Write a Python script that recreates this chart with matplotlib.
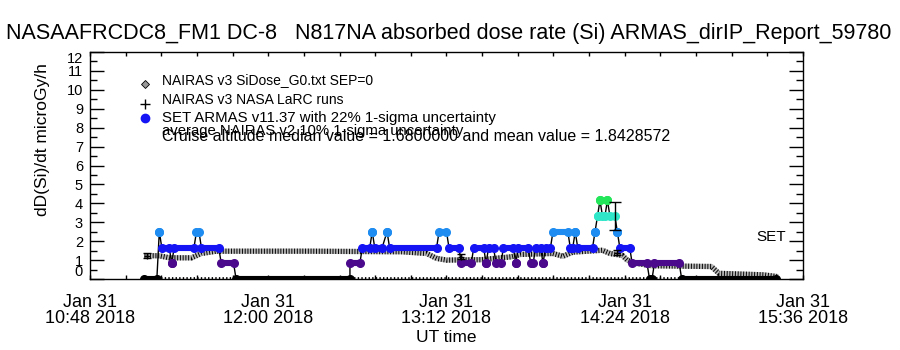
import pandas as pd
import matplotlib
matplotlib.use("Agg")
import matplotlib.pyplot as plt
import matplotlib.dates as mdates
from matplotlib.colors import ListedColormap, BoundaryNorm
from matplotlib.ticker import FixedLocator, AutoMinorLocator, MultipleLocator

plt.rcParams['font.family'] = ['Liberation Sans', 'DejaVu Sans']

day = "2018-01-31 "

# NAIRAS v3 SiDose_G0 model profile (breakpoints)
nairas_time = ["11:10", "11:16", "11:20", "11:29", "11:33", "11:39", "12:17", "12:54",
               "13:04", "13:08", "13:12", "13:26", "13:38", "13:42", "13:55", "13:59",
               "14:03", "14:15", "14:18", "14:23", "14:25", "14:28", "14:35", "14:59",
               "15:02", "15:20", "15:26"]
nairas_dose = [1.23, 1.23, 1.12, 1.12, 1.35, 1.47, 1.47, 1.44,
               1.35, 1.09, 1.00, 1.02, 1.17, 1.30, 1.35, 1.20,
               1.42, 1.52, 1.35, 1.25, 1.00, 0.84, 0.70, 0.66,
               0.30, 0.22, 0.12]

# NAIRAS v3 NASA LaRC runs with 10% uncertainty
larc_time = ["11:11", "13:18", "14:21"]
larc_dose = [1.23, 1.18, 1.39]
larc_err = [0.12, 0.12, 0.14]

# ARMAS dose rate segments: start, end, value
armas_start = ["11:10", "11:16", "11:17", "11:21", "11:22", "11:31", "11:33", "11:41",
               "11:47", "12:33", "12:38", "12:42", "12:43", "12:48", "12:49", "13:09",
               "13:13", "13:18", "13:23", "13:28", "13:29", "13:32", "13:35", "13:40",
               "13:41", "13:46", "13:48", "13:51", "13:52", "13:55", "14:02", "14:04",
               "14:05", "14:12", "14:13", "14:14", "14:15", "14:17", "14:18", "14:21",
               "14:22", "14:27", "14:34", "14:36", "14:47"]
armas_end = ["11:15", "11:16", "11:20", "11:21", "11:30", "11:32", "11:40", "11:46",
             "12:33", "12:37", "12:41", "12:42", "12:46", "12:48", "13:08", "13:12",
             "13:17", "13:22", "13:27", "13:28", "13:31", "13:34", "13:39", "13:40",
             "13:45", "13:47", "13:50", "13:51", "13:54", "14:01", "14:03", "14:04",
             "14:11", "14:12", "14:13", "14:14", "14:16", "14:17", "14:20", "14:21",
             "14:26", "14:33", "14:35", "14:46", "15:25"]
armas_dose = [0, 2.5, 1.66, 0.83, 1.66, 2.5, 1.66, 0.83,
              0, 0.83, 1.66, 2.5, 1.66, 2.5, 1.66, 2.5,
              1.66, 0.83, 1.66, 0.83, 1.66, 0.83, 1.66, 0.83,
              1.66, 0.83, 1.66, 0.83, 1.66, 2.5, 1.66, 2.5,
              1.66, 2.5, 3.33, 4.16, 3.33, 4.16, 3.33, 2.5,
              1.66, 0.83, 0, 0.83, 0]

# ARMAS cruise point with 22% uncertainty
armas_err_time = ["14:20"]
armas_err_dose = [3.33]
armas_err = [0.73]

# in-flight spans without ARMAS zero readings (small marks at the bottom)
flight_start = ["11:15", "12:33", "14:35"]
flight_end = ["11:47", "14:34", "14:47"]

tick_times = ["10:48", "12:00", "13:12", "14:24", "15:36"]


def to_dt(times):
    return pd.to_datetime([day + t for t in times])


level_colors = ["black", "#4b0a8c", "#1414f5", "#1e8cf0", "#30e6c8", "#24e65a"]
cmap = ListedColormap(level_colors)
norm = BoundaryNorm([-0.4, 0.4, 1.2, 2.0, 2.9, 3.7, 4.6], cmap.N)

fig = plt.figure(figsize=(9, 3.5), dpi=100)
ax = fig.add_axes([90 / 900, 71 / 350, 713 / 900, 227 / 350])

# NAIRAS model band
tn = to_dt(nairas_time)
ax.plot(tn, nairas_dose, color="0.72", lw=3.8, solid_capstyle="butt", zorder=2)
ax.plot(tn, nairas_dose, color="black", lw=3.8, ls=(0, (0.18, 0.34)), zorder=2)

# bottom marks during flight
for s, e in zip(to_dt(flight_start), to_dt(flight_end)):
    ax.plot([s, e], [0.07, 0.07], color="black", lw=2.0, ls=(0, (0.5, 0.8)), zorder=3)

# ARMAS connecting line and level bars
ts = to_dt(armas_start)
te = to_dt(armas_end)
path_t, path_v = [], []
for s, e, v in zip(ts, te, armas_dose):
    path_t += [s, e]
    path_v += [v, v]
ax.plot(path_t, path_v, color="black", lw=1.0, zorder=3)
for s, e, v in zip(ts, te, armas_dose):
    c = cmap(norm(v))
    ax.plot([s, e], [v, v], color=c, lw=4.4, solid_capstyle="round",
            marker="o", ms=5.5, mec=c, mfc=c, zorder=4, clip_on=True)

# error bars
ax.errorbar(to_dt(larc_time), larc_dose, yerr=larc_err, fmt="+", color="black",
            ms=5, lw=1, capsize=3, zorder=5)
ax.errorbar(to_dt(armas_err_time), armas_err_dose, yerr=armas_err, fmt="none",
            ecolor="black", lw=1, capsize=4, zorder=5)

# legend-like annotations
ax.plot([0.077], [0.86], transform=ax.transAxes, marker="D", ms=4.5, mfc="0.6",
        mec="black", mew=0.6, clip_on=False)
ax.plot([0.077], [0.77], transform=ax.transAxes, marker="+", ms=7, color="black",
        mew=1, clip_on=False)
ax.plot([0.077], [0.71], transform=ax.transAxes, marker="o", ms=6, color="#1414f5",
        clip_on=False)
ax.text(0.101, 0.875, "NAIRAS v3 SiDose_G0.txt SEP=0", transform=ax.transAxes,
        fontsize=10, va="center")
ax.text(0.101, 0.79, "NAIRAS v3 NASA LaRC runs", transform=ax.transAxes,
        fontsize=10, va="center")
ax.text(0.101, 0.71, "SET ARMAS v11.37 with 22% 1-sigma uncertainty",
        transform=ax.transAxes, fontsize=10.8, va="center")
ax.text(0.101, 0.652, "average NAIRAS v2 10% 1-sigma uncertainty",
        transform=ax.transAxes, fontsize=10.7, va="center")
ax.text(0.101, 0.627, "Cruise altitude median value = 1.6800000 and mean value = 1.8428572",
        transform=ax.transAxes, fontsize=11.5, va="center")
ax.text(0.935, 2.2, "SET", transform=ax.get_yaxis_transform(), fontsize=11,
        va="center")

# axes
ax.set_ylim(0, 12)
ax.set_xlim(to_dt(["10:48"])[0], to_dt(["15:36"])[0])
ax.yaxis.set_major_locator(MultipleLocator(1))
ax.yaxis.set_minor_locator(MultipleLocator(0.5))
ax.xaxis.set_major_locator(FixedLocator(mdates.date2num(to_dt(tick_times))))
ax.xaxis.set_minor_locator(AutoMinorLocator(5))
ax.set_xticklabels(["Jan 31\n" + t + " 2018" for t in tick_times])
ax.tick_params(axis="y", which="major", direction="in", length=10, width=1,
               labelsize=10.5, left=True, right=True, pad=5)
ax.tick_params(axis="y", which="minor", direction="in", length=5, width=1,
               left=True, right=True)
ax.tick_params(axis="x", which="both", direction="in", length=3, width=1,
               top=True, bottom=True, labelsize=13, pad=11)
for lab in ax.get_xticklabels():
    lab.set_linespacing(0.9)
for lab in ax.get_yticklabels():
    if lab.get_text() == "12":
        lab.set_verticalalignment("top")
    elif lab.get_text() == "0":
        lab.set_verticalalignment("bottom")
for sp in ax.spines.values():
    sp.set_linewidth(1)

fig.text(449 / 900, 1 - 33 / 350,
         "NASAAFRCDC8_FM1 DC-8   N817NA absorbed dose rate (Si) ARMAS_dirIP_Report_59780",
         fontsize=15.5, ha="center", va="center")
fig.text(446 / 900, 1 - 338 / 350, "UT time", fontsize=12.5, ha="center", va="center")
fig.text(43 / 900, 1 - 140 / 350, "dD(Si)/dt microGy/h", fontsize=12.5, rotation=90,
         ha="center", va="center")

fig.savefig("out.png", dpi=100)
